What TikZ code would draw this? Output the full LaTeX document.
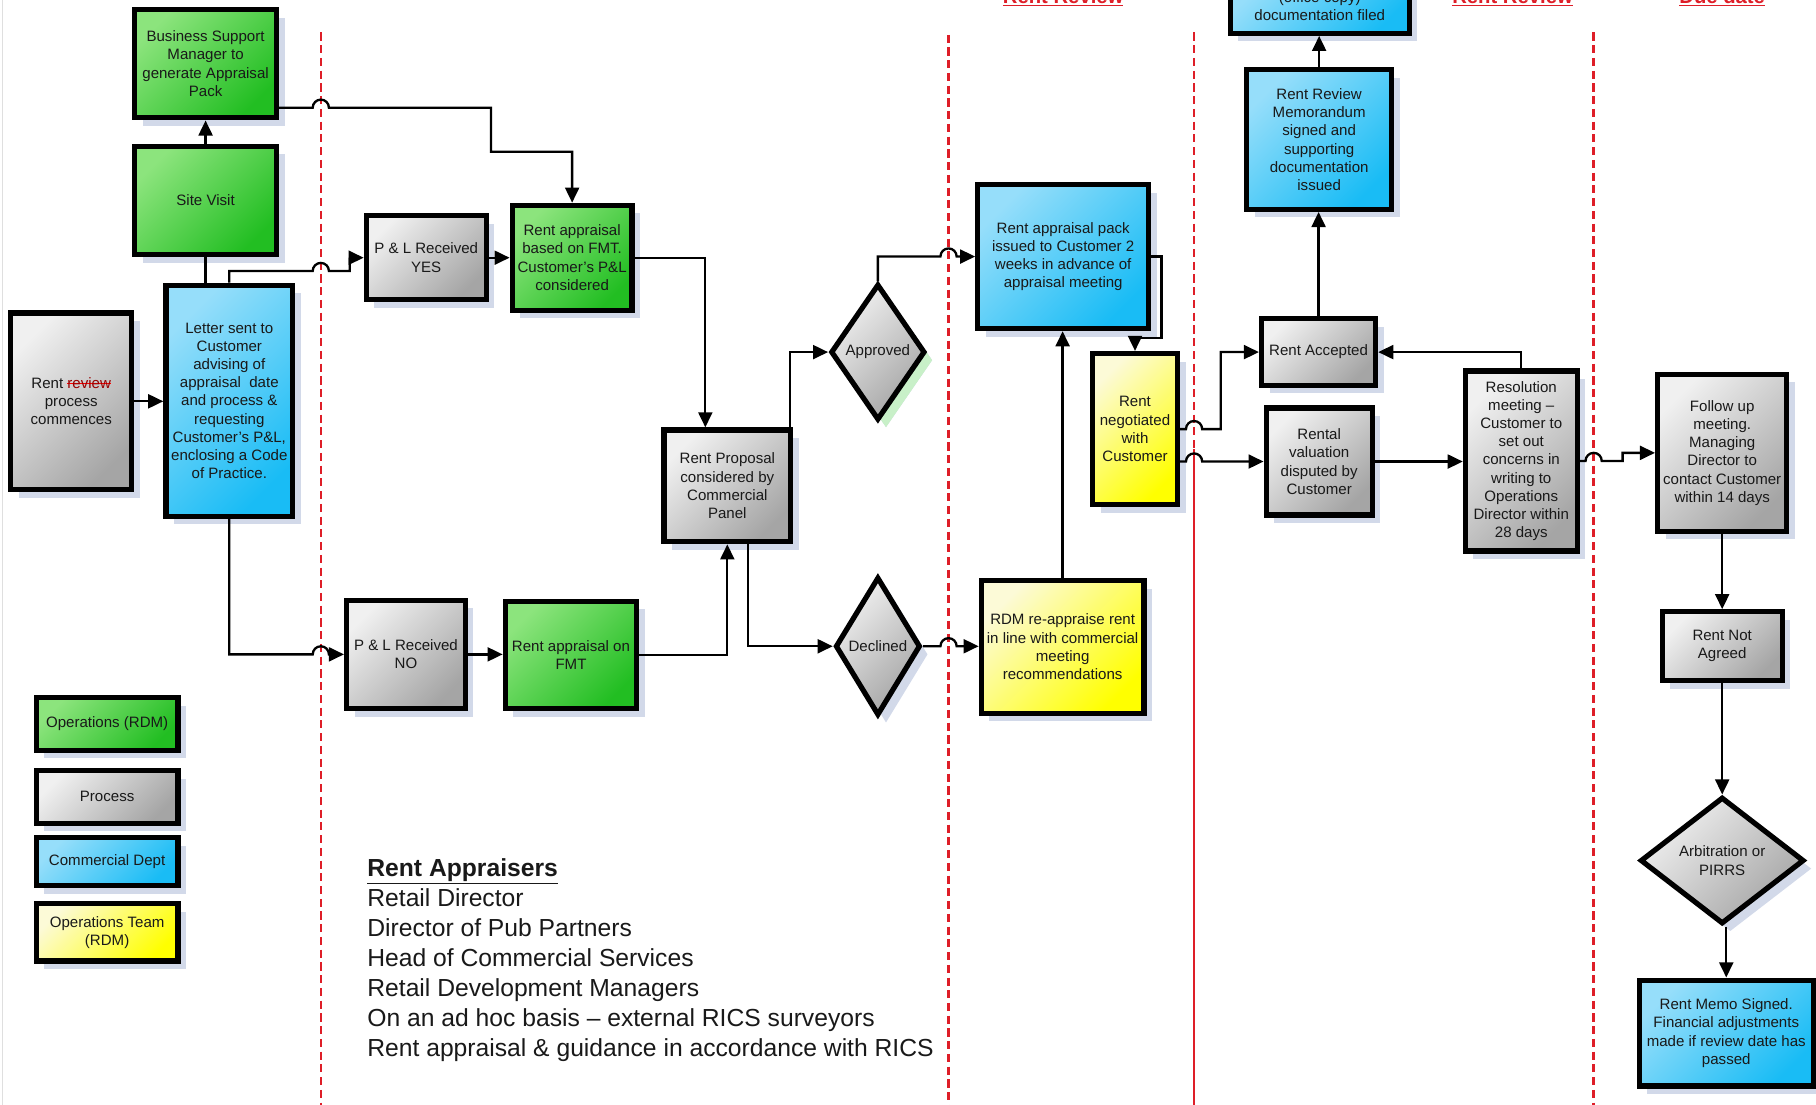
\documentclass[tikz,border=0pt]{standalone}
\usepackage{fontspec}
\setmainfont{Liberation Sans}
\usetikzlibrary{arrows.meta,shapes.geometric,shadows,calc}

\definecolor{grnD}{RGB}{34,190,34}
\definecolor{grnL}{RGB}{140,228,125}
\definecolor{gryD}{RGB}{165,165,165}
\definecolor{gryL}{RGB}{240,240,240}
\definecolor{bluD}{RGB}{25,188,245}
\definecolor{bluL}{RGB}{150,222,250}
\definecolor{yelD}{RGB}{255,255,0}
\definecolor{yelL}{RGB}{252,250,215}
\definecolor{shd}{RGB}{210,217,233}
\definecolor{shdg}{RGB}{200,240,200}
\definecolor{redl}{RGB}{222,30,40}
\newcommand\boxfont{\fontsize{13}{15.7}\selectfont}
\newlength\strklen
\newcommand\strk[1]{\settowidth\strklen{#1}\rlap{\color{red}\rule[0.28em]{\strklen}{0.9pt}}#1}

\begin{document}
\begin{tikzpicture}[x=1pt,y=-1pt,
  box/.style={draw=black, line width=4.5pt, align=center, inner sep=1pt,
    font=\boxfont, text=black!90,
    drop shadow={shadow xshift=7pt,shadow yshift=-7pt,fill=shd,opacity=1}},
  grn/.style={box, top color=grnL, bottom color=grnD, shading angle=45},
  gry/.style={box, top color=gryL, bottom color=gryD, shading angle=45},
  blu/.style={box, top color=bluL, bottom color=bluD, shading angle=45},
  yel/.style={box, top color=yelL, bottom color=yelD, shading angle=45},
  dia/.style={gry, diamond, inner sep=0pt},
  sepline/.style={draw=redl, line width=2pt, dash pattern=on 7pt off 4pt},
  sepsolid/.style={draw=redl, line width=2pt},
  conn/.style={line width=2pt, draw=black},
  arr/.style={conn, -{Triangle[length=13pt,width=12pt]}},
  head/.style={font=\bfseries\fontsize{17.5}{20}\selectfont, text=redl, inner sep=0pt, anchor=base}
]
\useasboundingbox (0,0) rectangle (1568,954);
\clip (0,0) rectangle (1568,954);

% page edge
\draw[gray!25, line width=1pt] (2.5,0) -- (2.5,954);

% separator lines
\coordinate (d1) at (277,0);
\coordinate (d2) at (819,0);
\coordinate (d3) at (1031,0);
\coordinate (d4) at (1376,0);
\draw[sepline] (277,28) -- (277,960);
\draw[sepline] (819,30) -- (819,960);
\draw[sepline] (1031,28) -- (1031,388);
\draw[sepsolid] (1031,388) -- (1031,960);
\draw[sepline] (1376,28) -- (1376,960);

% headings (cut at top, as in the source)
\node[head] (h1) at (918,3) {\underline{Rent Review}};
\node[head] (h2) at (1306,3) {\underline{Rent Review}};
\node[head] (h3) at (1487,3) {\underline{Due date}};

% nodes
\node[grn, minimum width=122.5pt, minimum height=93.5pt] (bsm) at (177.5,55) {Business Support\\Manager to\\generate Appraisal\\Pack};
\node[grn, minimum width=122.5pt, minimum height=93.5pt] (site) at (177.5,173) {Site Visit};
\node[blu, minimum width=109.5pt, minimum height=199.5pt] (letter) at (198,346) {Letter sent to\\Customer\\advising of\\appraisal\ \ date\\and process \&\\requesting\\Customer's P\&L,\\enclosing a Code\\of Practice.};
\node[gry, minimum width=104.5pt, minimum height=152.5pt] (rrpc) at (61.5,346.5) {Rent {\color{red!60!black}\strk{review}}\\process\\commences};
\node[gry, minimum width=103.5pt, minimum height=72.5pt] (plyes) at (368,222.5) {P \& L Received\\YES};
\node[grn, minimum width=103.5pt, minimum height=90.5pt] (rafmt) at (494,222.5) {Rent appraisal\\based on FMT.\\Customer's P\&L\\considered};
\node[gry, minimum width=109.5pt, minimum height=96.5pt] (proposal) at (628,419.5) {Rent Proposal\\considered by\\Commercial\\Panel};
\node[dia, minimum width=81.5pt, minimum height=117.5pt,
  drop shadow={shadow xshift=7pt,shadow yshift=-7pt,fill=shdg,opacity=1}] (approved) at (758,304) {Approved};
\node[blu, minimum width=147.5pt, minimum height=124.5pt] (pack) at (918,221.5) {Rent appraisal pack\\issued to Customer 2\\weeks in advance of\\appraisal meeting};
\node[yel, minimum width=73.5pt, minimum height=130.5pt] (negot) at (980,370.5) {Rent\\negotiated\\with\\Customer};
\node[blu, minimum width=125.5pt, minimum height=120.5pt] (memo) at (1139,120.5) {Rent Review\\Memorandum\\signed and\\supporting\\documentation\\issued};
\node[blu, minimum width=154.5pt, minimum height=46.5pt] (filed) at (1139.5,5.5) {(office copy)\\documentation filed};
\node[gry, minimum width=98.5pt, minimum height=57.5pt] (raccept) at (1138.5,304) {Rent Accepted};
\node[gry, minimum width=91.5pt, minimum height=92.5pt] (rvd) at (1139,398.5) {Rental\\valuation\\disputed by\\Customer};
\node[gry, minimum width=96.5pt, minimum height=155.5pt] (resol) at (1313.5,398) {Resolution\\meeting --\\Customer to\\set out\\concerns in\\writing to\\Operations\\Director within\\28 days};
\node[gry, minimum width=111.5pt, minimum height=135.5pt] (follow) at (1487,391) {Follow up\\meeting.\\Managing\\Director to\\contact Customer\\within 14 days};
\node[gry, minimum width=103.5pt, minimum height=59.5pt] (notagreed) at (1487,558) {Rent Not\\Agreed};
\node[dia, minimum width=141.5pt, minimum height=109.5pt] (arb) at (1487,743) {Arbitration or\\PIRRS};
\node[blu, minimum width=150.5pt, minimum height=91.5pt] (memosigned) at (1490.5,892) {Rent Memo Signed.\\Financial adjustments\\made if review date has\\passed};
\node[gry, minimum width=102.5pt, minimum height=93.5pt] (plno) at (350.5,565) {P \& L Received\\NO};
\node[grn, minimum width=113.5pt, minimum height=92.5pt] (rafmt2) at (493,565.5) {Rent appraisal on\\FMT};
\node[dia, minimum width=73.5pt, minimum height=119.5pt] (declined) at (758,558) {Declined};
\node[yel, minimum width=140.5pt, minimum height=114.5pt] (rdm) at (917.5,558.5) {RDM re-appraise rent\\in line with commercial\\meeting\\recommendations};

% legend
\node[grn, minimum width=122.5pt, minimum height=45.5pt] (lg1) at (92.5,625) {Operations (RDM)};
\node[gry, minimum width=122.5pt, minimum height=45.5pt] (lg2) at (92.5,688) {Process};
\node[blu, minimum width=122.5pt, minimum height=41.5pt] (lg3) at (92.5,744) {Commercial Dept};
\node[yel, minimum width=122.5pt, minimum height=49.5pt] (lg4) at (92.5,805) {Operations Team\\(RDM)};

% rent appraisers
\node[anchor=north west, align=left, inner sep=0pt, font=\fontsize{21.3}{26}\selectfont, text=black!90] (appr) at (317,741)
 {\textbf{\underline{Rent Appraisers}}\\Retail Director\\Director of Pub Partners\\Head of Commercial Services\\Retail Development Managers\\On an ad hoc basis -- external RICS surveyors\\Rent appraisal \& guidance in accordance with RICS};

% waypoints
\coordinate (s3) at ([yshift=-38pt]bsm.east);
\coordinate (c3) at (424,131);
\coordinate (w4) at (302,234);
\coordinate (c15) at (1003,292);
\coordinate (c16) at (1054,370.5);
\coordinate (s17) at ([yshift=-28pt]negot.east);
\coordinate (c22) at (1401,398);

% connectors
\draw[arr] (rrpc.east) -- (rrpc.east -| letter.west);
\draw[conn] (site.south |- letter.north) -- (site.south);
\draw[arr] (site.north) -- (bsm.south);
\draw[arr] (s3) -- ($(d1|-s3)+(-7,0)$) arc[start angle=180,end angle=0,radius=7pt] -| (c3) -| (rafmt.north);
\draw[arr] (letter.north) |- ($(d1|-w4)+(-7,0)$) arc[start angle=180,end angle=0,radius=7pt] -- (w4) |- (plyes.west);
\draw[arr] (plyes.east) -- (plyes.east -| rafmt.west);
\draw[arr] (rafmt.east) -| ([xshift=-19pt]proposal.north);
\draw[arr] (letter.south) |- ($(d1|-plno.west)+(-7,0)$) arc[start angle=180,end angle=0,radius=7pt] -- (plno.west);
\draw[arr] (plno.east) -- (plno.east -| rafmt2.west);
\draw[arr] (rafmt2.east) -| (proposal.south);
\draw[arr] ([xshift=18pt]proposal.south) |- (declined.west);
\draw[arr] ([xshift=54pt]proposal.north) |- (approved.west);
\draw[arr] (approved.north) |- ($(d2|-pack.west)+(-7,0)$) arc[start angle=180,end angle=0,radius=7pt] -- (pack.west);
\draw[arr] (declined.east) -- ($(d2|-declined.east)+(-7,0)$) arc[start angle=180,end angle=0,radius=7pt] -- (declined.east -| rdm.west);
\draw[arr] (rdm.north) -- (rdm.north |- pack.south);
\draw[arr] (pack.east) -| (c15) -| (negot.north);
\draw[arr] (negot.east) -- ($(d3|-negot.east)+(-7,0)$) arc[start angle=180,end angle=0,radius=7pt] -- (c16) |- (raccept.west);
\draw[arr] (s17) -- ($(d3|-s17)+(-7,0)$) arc[start angle=180,end angle=0,radius=7pt] -- (s17 -| rvd.west);
\draw[arr] (rvd.east) -- (rvd.east -| resol.west);
\draw[arr] (resol.north) |- (raccept.east);
\draw[arr] (raccept.north) -- (raccept.north |- memo.south);
\draw[arr] (memo.north) -- (memo.north |- filed.south);
\draw[arr] (resol.east) -- ($(d4|-resol.east)+(-7,0)$) arc[start angle=180,end angle=0,radius=7pt] -- (c22) |- (follow.west);
\draw[arr] (follow.south) -- (notagreed.north);
\draw[arr] (notagreed.south) -- (arb.north);
\draw[arr] (arb.south -| memosigned.north) -- (memosigned.north);
\end{tikzpicture}
\end{document}
